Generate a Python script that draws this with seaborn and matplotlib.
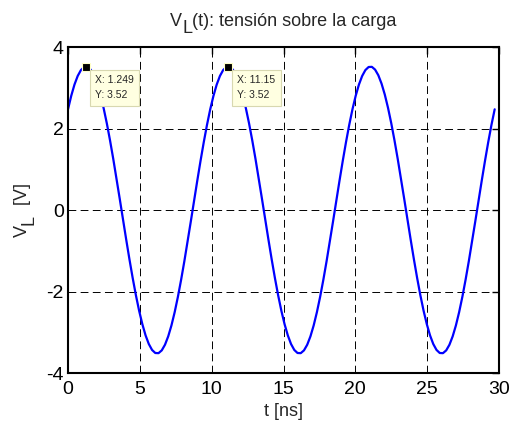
import matplotlib
matplotlib.use("Agg")
import matplotlib.pyplot as plt
import seaborn as sns
import pandas as pd

t_ns = [0.0, 0.225, 0.45, 0.675, 0.9, 1.125, 1.35, 1.575, 1.8, 2.025,
        2.25, 2.475, 2.7, 2.925, 3.15, 3.375, 3.6, 3.825, 4.05, 4.275,
        4.5, 4.725, 4.95, 5.175, 5.4, 5.625, 5.85, 6.075, 6.3, 6.525,
        6.75, 6.975, 7.2, 7.425, 7.65, 7.875, 8.1, 8.325, 8.55, 8.775,
        9.0, 9.225, 9.45, 9.675, 9.9, 10.125, 10.35, 10.575, 10.8, 11.025,
        11.25, 11.475, 11.7, 11.925, 12.15, 12.375, 12.6, 12.825, 13.05, 13.275,
        13.5, 13.725, 13.95, 14.175, 14.4, 14.625, 14.85, 15.075, 15.3, 15.525,
        15.75, 15.975, 16.2, 16.425, 16.65, 16.875, 17.1, 17.325, 17.55, 17.775,
        18.0, 18.225, 18.45, 18.675, 18.9, 19.125, 19.35, 19.575, 19.8, 20.025,
        20.25, 20.475, 20.7, 20.925, 21.15, 21.375, 21.6, 21.825, 22.05, 22.275,
        22.5, 22.725, 22.95, 23.175, 23.4, 23.625, 23.85, 24.075, 24.3, 24.525,
        24.75, 24.975, 25.2, 25.425, 25.65, 25.875, 26.1, 26.325, 26.55, 26.775,
        27.0, 27.225, 27.45, 27.675, 27.9, 28.125, 28.35, 28.575, 28.8, 29.025,
        29.25, 29.475, 29.7]
v_load = [2.471, 2.802, 3.077, 3.289, 3.434, 3.509, 3.513, 3.445, 3.307, 3.101, 2.833,
          2.507, 2.130, 1.709, 1.254, 0.773, 0.277, -0.226, -0.723, -1.206, -1.664, -2.089,
          -2.471, -2.802, -3.077, -3.289, -3.434, -3.509, -3.513, -3.445, -3.307, -3.101, -2.833,
          -2.507, -2.130, -1.709, -1.254, -0.773, -0.277, 0.226, 0.723, 1.206, 1.664, 2.089,
          2.471, 2.802, 3.077, 3.289, 3.434, 3.509, 3.513, 3.445, 3.307, 3.101, 2.833,
          2.507, 2.130, 1.709, 1.254, 0.773, 0.277, -0.226, -0.723, -1.206, -1.664, -2.089,
          -2.471, -2.802, -3.077, -3.289, -3.434, -3.509, -3.513, -3.445, -3.307, -3.101, -2.833,
          -2.507, -2.130, -1.709, -1.254, -0.773, -0.277, 0.226, 0.723, 1.206, 1.664, 2.089,
          2.471, 2.802, 3.077, 3.289, 3.434, 3.509, 3.513, 3.445, 3.307, 3.101, 2.833,
          2.507, 2.130, 1.709, 1.254, 0.773, 0.277, -0.226, -0.723, -1.206, -1.664, -2.089,
          -2.471, -2.802, -3.077, -3.289, -3.434, -3.509, -3.513, -3.445, -3.307, -3.101, -2.833,
          -2.507, -2.130, -1.709, -1.254, -0.773, -0.277, 0.226, 0.723, 1.206, 1.664, 2.089,
          2.471]
tip_x = [1.249, 11.15]
tip_y = [3.52, 3.52]
tip_labels = ["X: 1.249\nY: 3.52", "X: 11.15\nY: 3.52"]
x_ticks = [0, 5, 10, 15, 20, 25, 30]
y_ticks = [-4, -2, 0, 2, 4]
title_parts = ["V", "L", "(t): tensión sobre la carga"]
ylabel_parts = ["V", "L", "  [V]"]
xlabel_text = "t [ns]"

sns.set_style("white")
plt.rcParams['font.family'] = ['Liberation Sans', 'DejaVu Sans']

W, H = 512, 423
fig = plt.figure(figsize=(W / 100, H / 100), dpi=100)
ax = fig.add_axes([68 / W, 1 - 373 / H, 431 / W, 326 / H])

df = pd.DataFrame({"t": t_ns, "v": v_load})
sns.lineplot(data=df, x="t", y="v", ax=ax, color="#0000FF", linewidth=1.6)

ax.set_xlim(0, 30)
ax.set_ylim(-4, 4)
ax.set_xticks(x_ticks)
ax.set_yticks(y_ticks)
ax.set_xticklabels([str(v) for v in x_ticks])
ax.set_yticklabels([str(v) for v in y_ticks])
ax.tick_params(direction="in", length=5, width=1, top=True, right=True,
               labelsize=14, colors="black")
ax.tick_params(axis="x", pad=5.5)
ax.tick_params(axis="y", pad=3)
for s in ax.spines.values():
    s.set_linewidth(1.5)
    s.set_color("black")
ax.grid(True, color="black", linestyle=(0, (8, 4.5)), linewidth=0.7)

ax.set_xlabel(xlabel_text, fontsize=13, labelpad=3.5)
ax.set_ylabel("")

ax.scatter(tip_x, tip_y, marker="s", s=30, color="black", edgecolors="#FFFFC8",
           linewidths=0.8, zorder=5)
for x, y, lab in zip(tip_x, tip_y, tip_labels):
    ax.annotate(lab, xy=(x, y), xytext=(6.5, -6), textcoords="offset points",
                ha="left", va="top", fontsize=7.5, linespacing=1.7,
                bbox=dict(boxstyle="square,pad=0.5", facecolor="#FFFFE1",
                          edgecolor="#D8D8B0", linewidth=0.8), zorder=6)

renderer = fig.canvas.get_renderer()
FS = 13
fs_px = FS * 100 / 72
drop = 0.38 * fs_px


def place_parts(parts, center, base, vertical=False):
    objs = []
    for s in parts:
        t = fig.text(0, 0, s, fontsize=FS, ha="left", va="baseline",
                     rotation=90 if vertical else 0, rotation_mode="anchor")
        objs.append(t)
    lengths = []
    for t in objs:
        bb = t.get_window_extent(renderer)
        lengths.append(bb.height if vertical else bb.width)
    pos = center - sum(lengths) / 2
    for i, (t, L) in enumerate(zip(objs, lengths)):
        off = drop if i == 1 else 0
        if vertical:
            t.set_position(((base + off) / W, pos / H))
        else:
            t.set_position((pos / W, (base - off) / H))
        pos += L


# title: baseline of main text ~26 px from top
place_parts(title_parts, center=(68 + 499) / 2, base=H - 26)
# y label: baseline at x ~ 27 px, centred on the axes
place_parts(ylabel_parts, center=H - 210, base=27, vertical=True)

fig.savefig("out.png", dpi=100, facecolor="white")
